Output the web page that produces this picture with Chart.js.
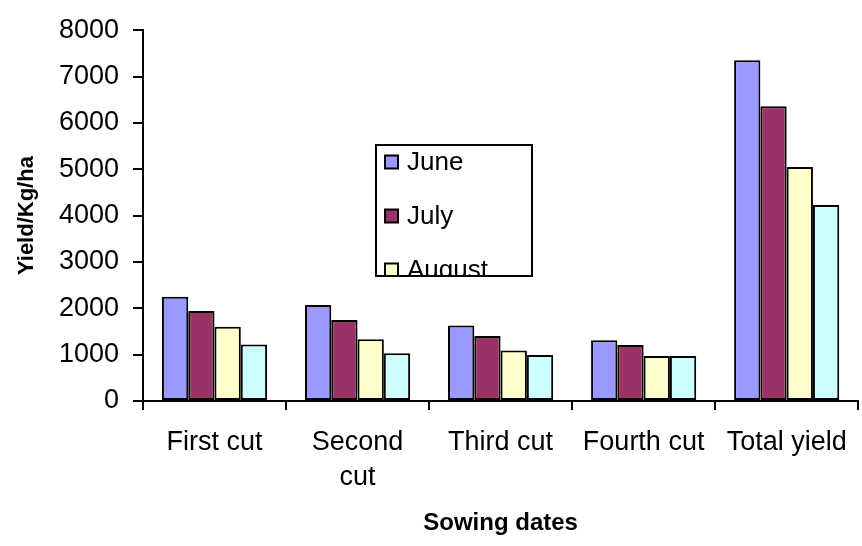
<!DOCTYPE html>
<html>
<head>
<meta charset="utf-8">
<script src="https://cdn.jsdelivr.net/npm/chart.js@4"></script>
<style>
  html, body { margin: 0; padding: 0; background: #fff; }
  canvas { display: block; }
</style>
</head>
<body>
<canvas id="chart" width="862" height="546"></canvas>
<script>
// Forage yield per cut for each sowing date
const categories = ['First cut', ['Second', 'cut'], 'Third cut', 'Fourth cut', 'Total yield'];
const seriesNames = ['June', 'July', 'August', 'September'];
const june      = [2250, 2070, 1630, 1310, 7350];
const july      = [1940, 1750, 1400, 1210, 6360];
const august    = [1600, 1330, 1090, 970, 5050];
const september = [1220, 1030, 990, 970, 4230];
const yTicks    = [0, 1000, 2000, 3000, 4000, 5000, 6000, 7000, 8000];

const seriesValues = [june, july, august, september];
const seriesColors = ['#9999FF', '#993366', '#FFFFCC', '#CCFFFF'];

const FONT = 'Arial, "Liberation Sans", sans-serif';

// Boxed legend that sits over the plot; its frame cuts off the last rows
const boxedLegend = {
  id: 'boxedLegend',
  afterDraw(chart, args, opts) {
    const ctx = chart.ctx;
    const { x, y, w, h, rowGap, firstRow, swatch, textGap } = opts;
    ctx.save();
    ctx.fillStyle = '#fff';
    ctx.fillRect(x, y, w, h);
    ctx.beginPath();
    ctx.rect(x, y, w, h);
    ctx.clip();
    ctx.font = '26px ' + FONT;
    ctx.textBaseline = 'middle';
    ctx.textAlign = 'left';
    chart.data.datasets.forEach((ds, i) => {
      const cy = y + firstRow + i * rowGap;
      ctx.fillStyle = ds.backgroundColor;
      ctx.fillRect(x + 9, cy - swatch / 2, swatch, swatch);
      ctx.lineWidth = 2;
      ctx.strokeStyle = '#000';
      ctx.strokeRect(x + 9, cy - swatch / 2, swatch, swatch);
      ctx.fillStyle = '#000';
      ctx.fillText(ds.label, x + 9 + swatch + textGap, cy + 1);
    });
    ctx.restore();
    ctx.save();
    ctx.lineWidth = 2;
    ctx.strokeStyle = '#000';
    ctx.strokeRect(x, y, w, h);
    ctx.restore();
  }
};

new Chart(document.getElementById('chart'), {
  type: 'bar',
  data: {
    labels: categories,
    datasets: seriesNames.map((name, i) => ({
      label: name,
      data: seriesValues[i],
      backgroundColor: seriesColors[i],
      borderColor: '#000',
      borderWidth: 2,
      borderSkipped: false,
      barPercentage: 1,
      categoryPercentage: 0.735
    }))
  },
  options: {
    responsive: false,
    animation: false,
    devicePixelRatio: 1,
    layout: { padding: { left: 0, right: 3, top: 23, bottom: 0 } },
    plugins: {
      legend: { display: false },
      tooltip: { enabled: false },
      boxedLegend: { x: 376, y: 145, w: 156, h: 131, rowGap: 54, firstRow: 17, swatch: 13, textGap: 9 }
    },
    scales: {
      x: {
        grid: {
          display: true,
          drawOnChartArea: false,
          drawTicks: true,
          tickLength: 9,
          color: '#000',
          lineWidth: 2,
          offset: true
        },
        border: { display: true, color: '#000', width: 2 },
        ticks: {
          color: '#000',
          font: { family: FONT, size: 27, lineHeight: 1.3 },
          padding: 15,
          maxRotation: 0,
          autoSkip: false
        },
        title: {
          display: true,
          text: 'Sowing dates',
          color: '#000',
          font: { family: FONT, size: 24, weight: 'bold' },
          padding: { top: 0, bottom: 8 }
        },
        afterFit(scale) { scale.height = 145; }
      },
      y: {
        min: 0,
        max: 8000,
        afterBuildTicks(scale) { scale.ticks = yTicks.map(v => ({ value: v })); },
        grid: {
          display: true,
          drawOnChartArea: false,
          drawTicks: true,
          tickLength: 10,
          color: '#000',
          lineWidth: 2
        },
        border: { display: true, color: '#000', width: 2 },
        ticks: {
          color: '#000',
          font: { family: FONT, size: 27 },
          padding: 14,
          callback: (v) => String(v)
        },
        title: {
          display: true,
          text: 'Yield/Kg/ha',
          color: '#000',
          font: { family: FONT, size: 22, weight: 'bold' },
          padding: { top: 14, bottom: 0 }
        },
        afterFit(scale) { scale.width = 143; }
      }
    }
  },
  plugins: [boxedLegend]
});
</script>
</body>
</html>
